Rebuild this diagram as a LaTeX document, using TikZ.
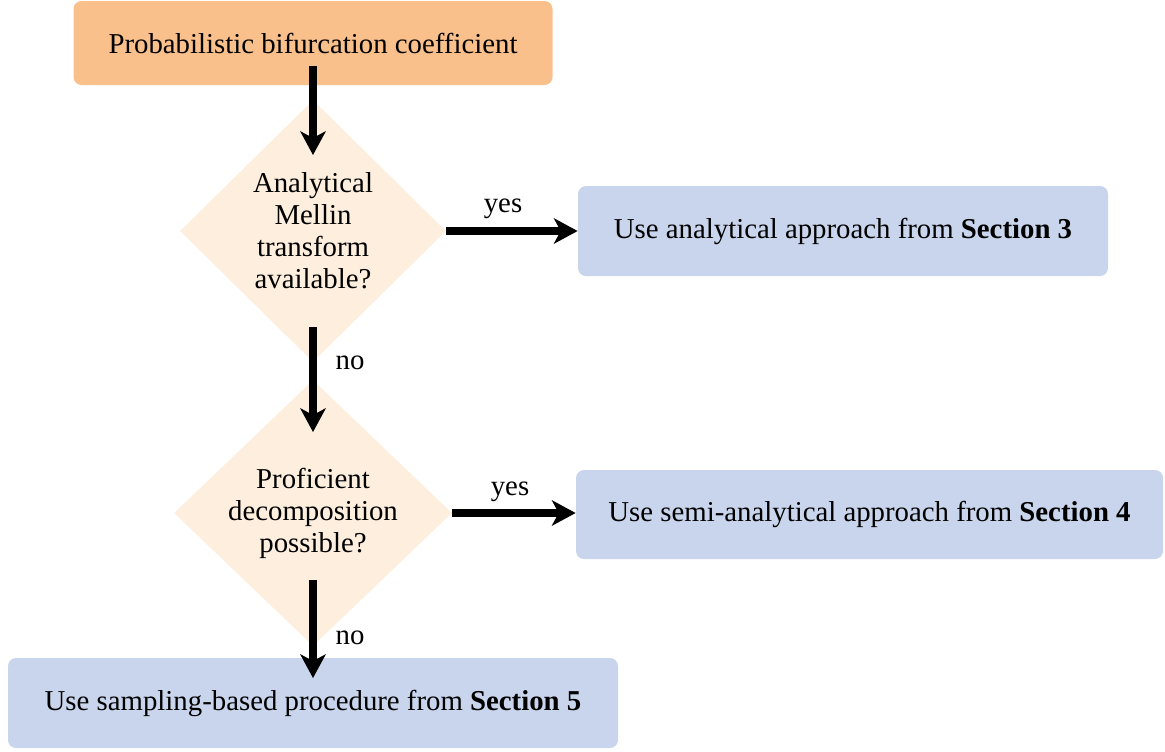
\documentclass[tikz,border=0pt]{standalone}
\usepackage{fontspec}
\setmainfont{Liberation Serif}
\usetikzlibrary{shapes.geometric,arrows.meta}
\definecolor{orangebox}{RGB}{249,192,140}
\definecolor{peach}{RGB}{253,238,222}
\definecolor{bluebox}{RGB}{200,213,236}
\begin{document}
\begin{tikzpicture}[x=0.5pt,y=-0.5pt,
 font=\fontsize{14.4pt}{16pt}\selectfont,
 box/.style={rounded corners=4pt, inner sep=0pt, align=center},
 startbox/.style={box, fill=orangebox, minimum width=239.5pt, minimum height=42pt},
 endbox/.style={box, fill=bluebox},
 decision/.style={diamond, fill=peach, inner sep=0pt},
 txt/.style={align=center, inner sep=0pt},
 flow/.style={line width=4pt, -{Stealth[length=12pt,width=13pt,inset=3.5pt,line width=0pt]}},
 lab/.style={inner sep=0pt}]
\useasboundingbox (0,0) rectangle (1165,751);
% nodes
\node[startbox] (top) at (313,43) {Probabilistic bifurcation coefficient};
\node[decision, minimum width=133pt, minimum height=131pt] (d1) at (313,231) {};
\node[txt] (t1) at (d1) {Analytical\\Mellin\\transform\\available?};
\node[decision, minimum width=139pt, minimum height=133pt] (d2) at (313,513) {};
\node[txt] (t2) at (d2) {Proficient\\decomposition\\possible?};
\node[endbox, minimum width=265pt, minimum height=45pt] (s3) at (843,231) {Use analytical approach from \textbf{Section 3}};
\node[endbox, minimum width=293.5pt, minimum height=44.5pt] (s4) at (869.5,514.5) {Use semi-analytical approach from \textbf{Section 4}};
\node[endbox, minimum width=305pt, minimum height=45pt] (s5) at (313,703) {Use sampling-based procedure from \textbf{Section 5}};
% connectors
\draw[flow, shorten <=11.5pt, shorten >=38pt] (top.center) -- (d1.center);
\draw[flow] (d1.east) -- (s3.west);
\draw[flow, shorten <=48pt, shorten >=40.5pt] (d1.center) -- (d2.center);
\draw[flow] (d2.east) -- (d2.east -| s4.west);
\draw[flow, shorten <=33.5pt, shorten >=12.5pt] (d2.center) -- (s5.center);
% labels
\node[lab] (y1) at (503,209) {yes};
\node[lab] (n1) at (350,363) {no};
\node[lab] (y2) at (510,492) {yes};
\node[lab] (n2) at (350,638) {no};
\end{tikzpicture}
\end{document}
